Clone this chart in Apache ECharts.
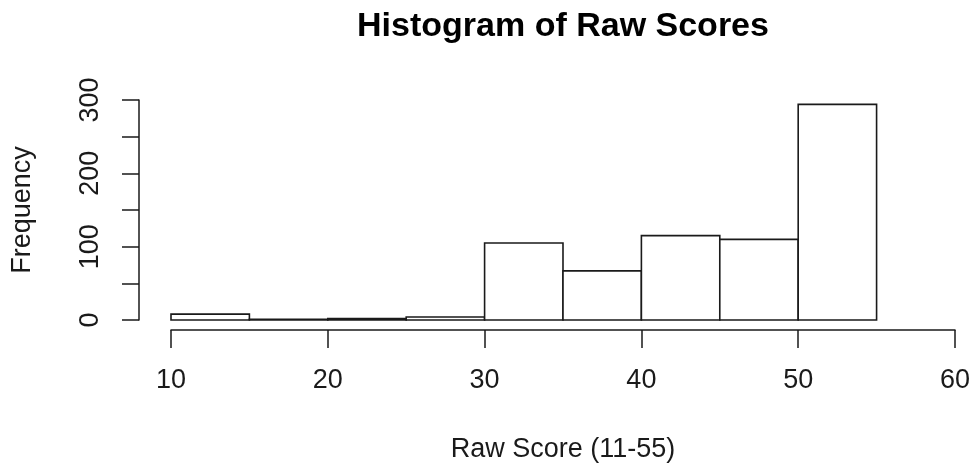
<!DOCTYPE html>
<html>
<head>
<meta charset="utf-8">
<script src="https://cdn.jsdelivr.net/npm/echarts@6/dist/echarts.min.js"></script>
<style>
html,body{margin:0;padding:0;background:#fff;}
#chart{width:973px;height:464px;}
</style>
</head>
<body>
<div id="chart"></div>
<script>
// Histogram data
const binStarts = [10, 15, 20, 25, 30, 35, 40, 45, 50];
const binEnds   = [15, 20, 25, 30, 35, 40, 45, 50, 55];
const frequencies = [8, 1, 2, 4, 105, 67, 115, 110, 294];
const xTickLabels = [10, 20, 30, 40, 50, 60];
const yTickLabels = [0, 100, 200, 300];
const titleText = 'Histogram of Raw Scores';
const xName = 'Raw Score (11-55)';
const yName = 'Frequency';

const FONT = '"Liberation Sans", Arial, Helvetica, sans-serif';
const INK = '#1a1a1a';

const chart = echarts.init(document.getElementById('chart'), null, {renderer: 'canvas'});

const option = {
  backgroundColor: '#ffffff',
  animation: false,
  graphic: [{
    type: 'text',
    x: 563,
    y: 27,
    style: {
      text: titleText,
      fontFamily: FONT,
      fontSize: 34,
      fontWeight: 'bold',
      fill: '#000',
      align: 'center',
      verticalAlign: 'middle'
    }
  }],
  grid: {left: 171, right: 17, top: 100, bottom: 144, containLabel: false},
  xAxis: {
    type: 'value',
    min: 10,
    max: 60,
    interval: 10,
    offset: 10,
    name: xName,
    nameLocation: 'middle',
    nameGap: 106,
    nameTextStyle: {fontFamily: FONT, fontSize: 27, color: INK},
    axisLine: {show: true, onZero: false, lineStyle: {color: INK, width: 1.5}},
    axisTick: {show: true, length: 18, lineStyle: {color: INK, width: 1.5}},
    axisLabel: {
      margin: 37,
      fontFamily: FONT, fontSize: 27, color: INK,
      formatter: v => xTickLabels.includes(v) ? String(v) : ''
    },
    splitLine: {show: false}
  },
  yAxis: {
    type: 'value',
    min: 0,
    max: 300,
    interval: 50,
    offset: 32,
    name: yName,
    nameLocation: 'middle',
    nameRotate: 90,
    nameGap: 103,
    nameTextStyle: {fontFamily: FONT, fontSize: 27, color: INK},
    axisLine: {show: true, onZero: false, lineStyle: {color: INK, width: 1.5}},
    axisTick: {show: true, length: 17, lineStyle: {color: INK, width: 1.5}},
    axisLabel: {
      rotate: 90,
      margin: 35,
      fontFamily: FONT, fontSize: 27, color: INK,
      formatter: v => yTickLabels.includes(v) ? String(v) : ''
    },
    splitLine: {show: false}
  },
  series: [{
    type: 'custom',
    data: binStarts.map((s, i) => [s, binEnds[i], frequencies[i]]),
    encode: {x: [0, 1], y: 2},
    renderItem: function (params, api) {
      const p0 = api.coord([api.value(0), 0]);
      const p1 = api.coord([api.value(1), api.value(2)]);
      return {
        type: 'rect',
        shape: {x: p0[0], y: p1[1], width: p1[0] - p0[0], height: p0[1] - p1[1]},
        style: {fill: '#ffffff', stroke: INK, lineWidth: 1.6}
      };
    }
  }]
};

chart.setOption(option);
</script>
</body>
</html>
